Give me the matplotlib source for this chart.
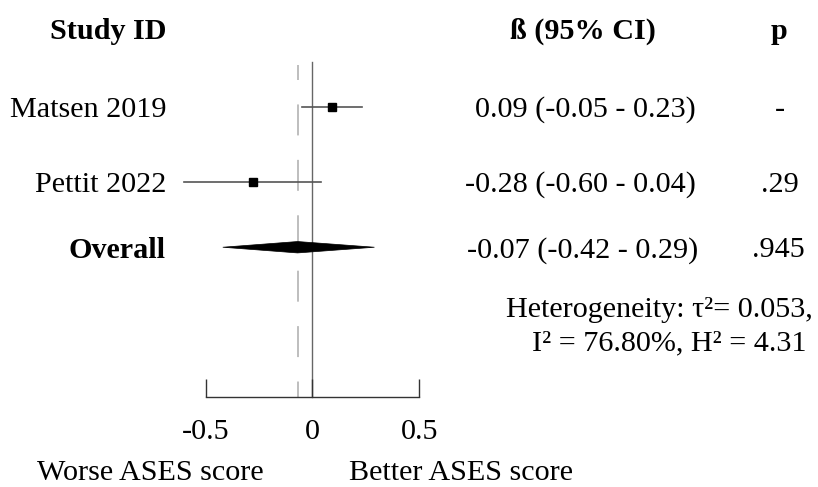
import matplotlib
matplotlib.use("Agg")
import matplotlib.pyplot as plt
from matplotlib.patches import Polygon
import matplotlib.transforms as mtransforms

plt.rcParams['font.family'] = ['Liberation Serif', 'DejaVu Serif']
plt.rcParams['lines.scale_dashes'] = False

# data
studies = ['Matsen 2019', 'Pettit 2022']
beta = [0.09, -0.28]
ci_low = [-0.05, -0.60]
ci_high = [0.23, 0.04]
ci_text = ['0.09 (-0.05 - 0.23)', '-0.28 (-0.60 - 0.04)']
p_text = ['-', '.29']

overall_beta = -0.07
overall_low = -0.42
overall_high = 0.29
overall_ci_text = '-0.07 (-0.42 - 0.29)'
overall_p_text = '.945'

het_line1 = 'Heterogeneity: τ²= 0.053,'
het_line2 = 'I² = 76.80%, H² = 4.31'

xticks = [-0.5, 0, 0.5]
xticklabels = ['-0.5', '0', '0.5']

# layout (row positions, pixel helpers)
W, H = 818, 487
row_y = [1.0, 2.0]
overall_y = 2.87
header_y = -0.05
FS = 21.7


def fx(px):
    return px / W


def fy(py):
    return 1 - py / H


fig = plt.figure(figsize=(W / 100, H / 100), dpi=100)
ax = fig.add_axes([fx(205.7), fy(397), fx(419.3) - fx(205.7), (397 - 62) / H])
ax.set_xlim(-0.5, 0.5)
ax.set_ylim(4.867, 0.4)

for s in ['top', 'left', 'right']:
    ax.spines[s].set_visible(False)
ax.spines['bottom'].set_bounds(-0.5, 0.5)
ax.spines['bottom'].set_color('#333333')
ax.spines['bottom'].set_linewidth(1.0)
ax.set_yticks([])
ax.set_xticks(xticks)
ax.set_xticklabels(xticklabels)
ax.tick_params(axis='x', direction='in', length=13, width=1.0, color='#333333',
               labelsize=FS, pad=15.5)

# reference lines
ax.plot([0, 0], [0.4, 4.867], color='#666666', lw=1.0, clip_on=False, zorder=1)
ax.plot([overall_beta, overall_beta], [0.44, 4.867], color='#b3b3b3', lw=1.2,
        linestyle=(11.5, (22.3, 17.6)), clip_on=False, zorder=1)

# study rows
for i in range(len(studies)):
    ax.plot([ci_low[i], ci_high[i]], [row_y[i], row_y[i]], color='#555555', lw=1.2,
            clip_on=False, zorder=2)
    ax.plot(beta[i], row_y[i], marker='s', color='black', markersize=5.2,
            linestyle='none', clip_on=False, zorder=3)

# overall diamond
h = 0.076
diamond = Polygon([(overall_low, overall_y), (overall_beta, overall_y - h),
                   (overall_high, overall_y), (overall_beta, overall_y + h)],
                  closed=True, facecolor='black', edgecolor='black', lw=0.5,
                  clip_on=False, zorder=3)
ax.add_patch(diamond)

# text columns (nudged 3 px down so cap height centres on the row)
nudge = mtransforms.ScaledTranslation(0, -0.03, fig.dpi_scale_trans)
trans = mtransforms.blended_transform_factory(fig.transFigure, ax.transData) + nudge
ftrans = fig.transFigure + nudge

fig.text(fx(166), header_y, 'Study ID', transform=trans, ha='right', va='center',
         fontsize=FS, fontweight='bold')
fig.text(fx(583), header_y, 'ß (95% CI)', transform=trans, ha='center', va='center',
         fontsize=FS, fontweight='bold')
fig.text(fx(779), header_y, 'p', transform=trans, ha='center', va='center',
         fontsize=FS, fontweight='bold')

for i in range(len(studies)):
    fig.text(fx(166), row_y[i], studies[i], transform=trans, ha='right', va='center',
             fontsize=FS)
    fig.text(fx(696), row_y[i], ci_text[i], transform=trans, ha='right', va='center',
             fontsize=FS)
    fig.text(fx(780), row_y[i], p_text[i], transform=trans, ha='center', va='center',
             fontsize=FS)

fig.text(fx(166), overall_y, 'Overall', transform=trans, ha='right', va='center',
         fontsize=FS, fontweight='bold')
fig.text(fx(698), overall_y, overall_ci_text, transform=trans, ha='right', va='center',
         fontsize=FS)
fig.text(fx(778), overall_y, overall_p_text, transform=trans, ha='center', va='center',
         fontsize=FS)

fig.text(fx(813), fy(307), het_line1, transform=ftrans, ha='right', va='center',
         fontsize=FS)
fig.text(fx(806), fy(340), het_line2, transform=ftrans, ha='right', va='center',
         fontsize=FS)

fig.text(fx(150), fy(470), 'Worse ASES score', transform=ftrans, ha='center',
         va='center', fontsize=FS)
fig.text(fx(461), fy(470), 'Better ASES score', transform=ftrans, ha='center',
         va='center', fontsize=FS)

fig.savefig('out.png', dpi=100)
